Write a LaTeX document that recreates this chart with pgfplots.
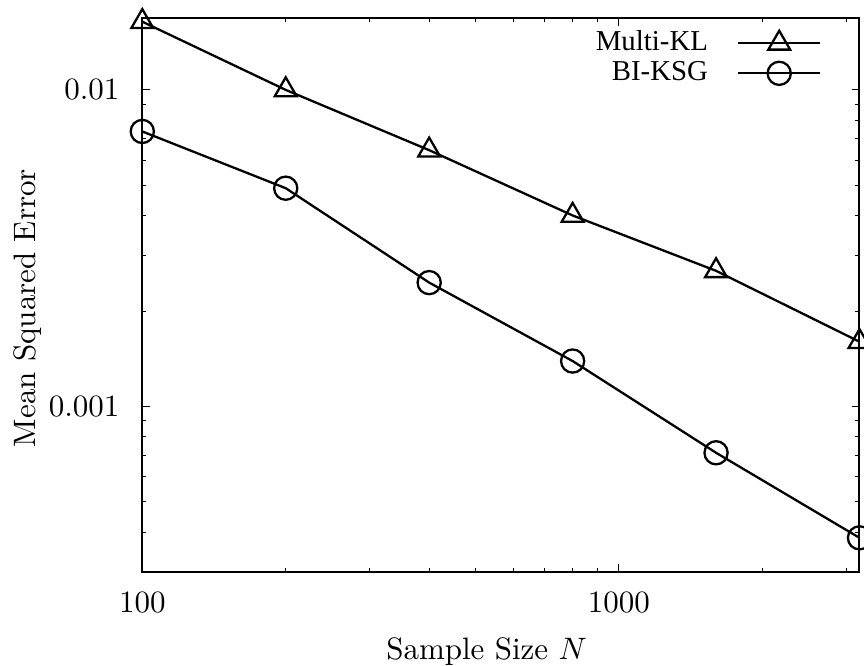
\documentclass[border=0pt]{standalone}
\usepackage{fontspec}
\usepackage{pgfplots}
\pgfplotsset{compat=1.18}
\newfontfamily\timesfont{Liberation Serif}

\begin{document}
\begin{tikzpicture}
\path[use as bounding box] (-45.90pt,-30.10pt) rectangle (232.81pt,184.42pt);
\begin{loglogaxis}[
  at={(0pt,0pt)}, anchor=south west,
  scale only axis, width=231.35pt, height=178.52pt,
  xmin=100, xmax=3200, ymin=0.0003, ymax=0.01684,
  xtick={100,1000}, xticklabels={$100$,$1000$},
  ytick={0.001,0.01}, yticklabels={$0.001$,$0.01$},
  minor xtick={200,300,400,500,600,700,800,900,2000,3000},
  minor ytick={0.0003,0.0004,0.0005,0.0006,0.0007,0.0008,0.0009,0.002,0.003,0.004,0.005,0.006,0.007,0.008,0.009},
  major tick length=2.45pt, minor tick length=1.3pt,
  tick style={line width=0.32pt, black},
  axis line style={line width=0.645pt},
  tick align=inside,
  xticklabel style={anchor=north, inner sep=0pt, yshift=-6.55pt},
  yticklabel style={anchor=east, inner sep=0pt, xshift=-7.19pt},
  xlabel={Sample Size $N$},
  ylabel={Mean Squared Error},
  xlabel style={at={(axis description cs:0.48,0)}, anchor=base, yshift=-28.39pt},
  ylabel style={at={(axis description cs:-0.1495,0.4765)}, anchor=base, rotate=0},
  clip=false,
  legend plot pos=right,
  legend cell align=right,
  legend image code/.code={\draw[mark repeat=2,mark phase=2,#1] plot coordinates {(0pt,0pt) (13.23pt,0pt) (26.45pt,0pt)};},
  legend style={draw=none, fill=none, inner sep=0pt, row sep=0pt, column sep=9.4pt,
    at={(axis description cs:0.9477,0.983)}, anchor=north east,
    nodes={inner sep=0pt, text height=7.1pt, text depth=2.58pt, font=\timesfont\fontsize{9.3}{11}\selectfont}},
  every axis plot/.append style={line width=0.74pt, black},
]
\addplot[mark=triangle, mark size=4.06pt, mark options={solid, line width=0.74pt}] coordinates {
  (100,0.01643) (200,0.0100) (400,0.00645) (800,0.00401) (1600,0.00268) (3200,0.0016)
};
\addlegendentry{Multi-KL}
\addplot[mark=o, mark size=3.74pt, mark options={solid, line width=0.74pt}] coordinates {
  (100,0.00739) (200,0.00489) (400,0.00246) (800,0.00139) (1600,0.000713) (3200,0.000384)
};
\addlegendentry{BI-KSG}
\end{loglogaxis}
\end{tikzpicture}
\end{document}
